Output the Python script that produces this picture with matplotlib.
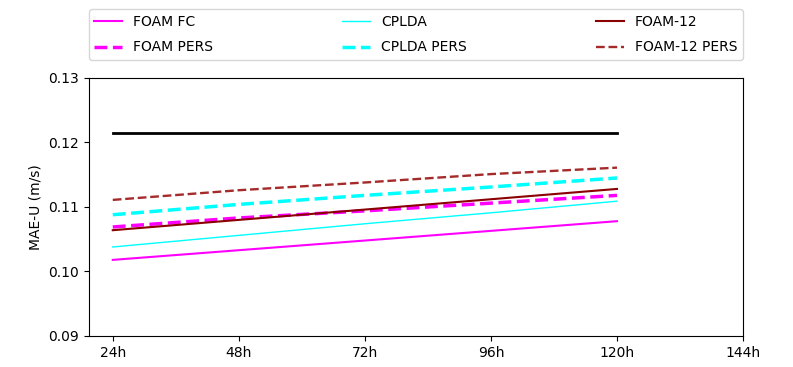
import matplotlib
matplotlib.use("Agg")
import matplotlib.pyplot as plt

# lead times (index positions on the x axis)
leads = [1, 2, 3, 4, 5]
tick_pos = [1, 2, 3, 4, 5, 6]
tick_labels = ["24h", "48h", "72h", "96h", "120h", "144h"]

# mean absolute error of U velocity (m/s)
foam_fc = [0.1018, 0.1033, 0.1048, 0.1063, 0.1078]
foam_pers = [0.1069, 0.1083, 0.1094, 0.1106, 0.1118]
cplda = [0.1038, 0.1056, 0.1074, 0.1091, 0.1109]
cplda_pers = [0.1088, 0.1104, 0.1118, 0.1131, 0.1145]
foam12 = [0.1064, 0.1080, 0.1096, 0.1112, 0.1128]
foam12_pers = [0.1111, 0.1126, 0.1138, 0.1151, 0.1161]
reference = [0.1215, 0.1215, 0.1215, 0.1215, 0.1215]

fig = plt.figure(figsize=(7.93, 3.67), dpi=100)
ax = fig.add_axes([0.112, 0.0845, 0.825, 0.703])

ax.plot(leads, foam_fc, color="magenta", lw=1.5, label="FOAM FC")
ax.plot(leads, foam_pers, color="magenta", lw=2.5, ls="--", label="FOAM PERS")
ax.plot(leads, cplda, color="cyan", lw=1.0, label="CPLDA")
ax.plot(leads, cplda_pers, color="cyan", lw=2.5, ls="--", label="CPLDA PERS")
ax.plot(leads, foam12, color="darkred", lw=1.5, label="FOAM-12")
ax.plot(leads, foam12_pers, color="brown", lw=1.7, ls="--", label="FOAM-12 PERS")
ax.plot(leads, reference, color="black", lw=2.0)

ax.set_xlim(0.81, 6)
ax.set_ylim(0.09, 0.13)
ax.set_yticks([0.09, 0.10, 0.11, 0.12, 0.13])
ax.set_xticks(tick_pos)
ax.set_xticklabels(tick_labels)
ax.set_ylabel("MAE-U (m/s)")

ax.legend(loc="lower left", bbox_to_anchor=(0, 1.07, 1.0, 0.21), mode="expand",
          ncol=3, borderaxespad=0, frameon=True, labelspacing=0.85)

fig.savefig("out.png", dpi=100)
